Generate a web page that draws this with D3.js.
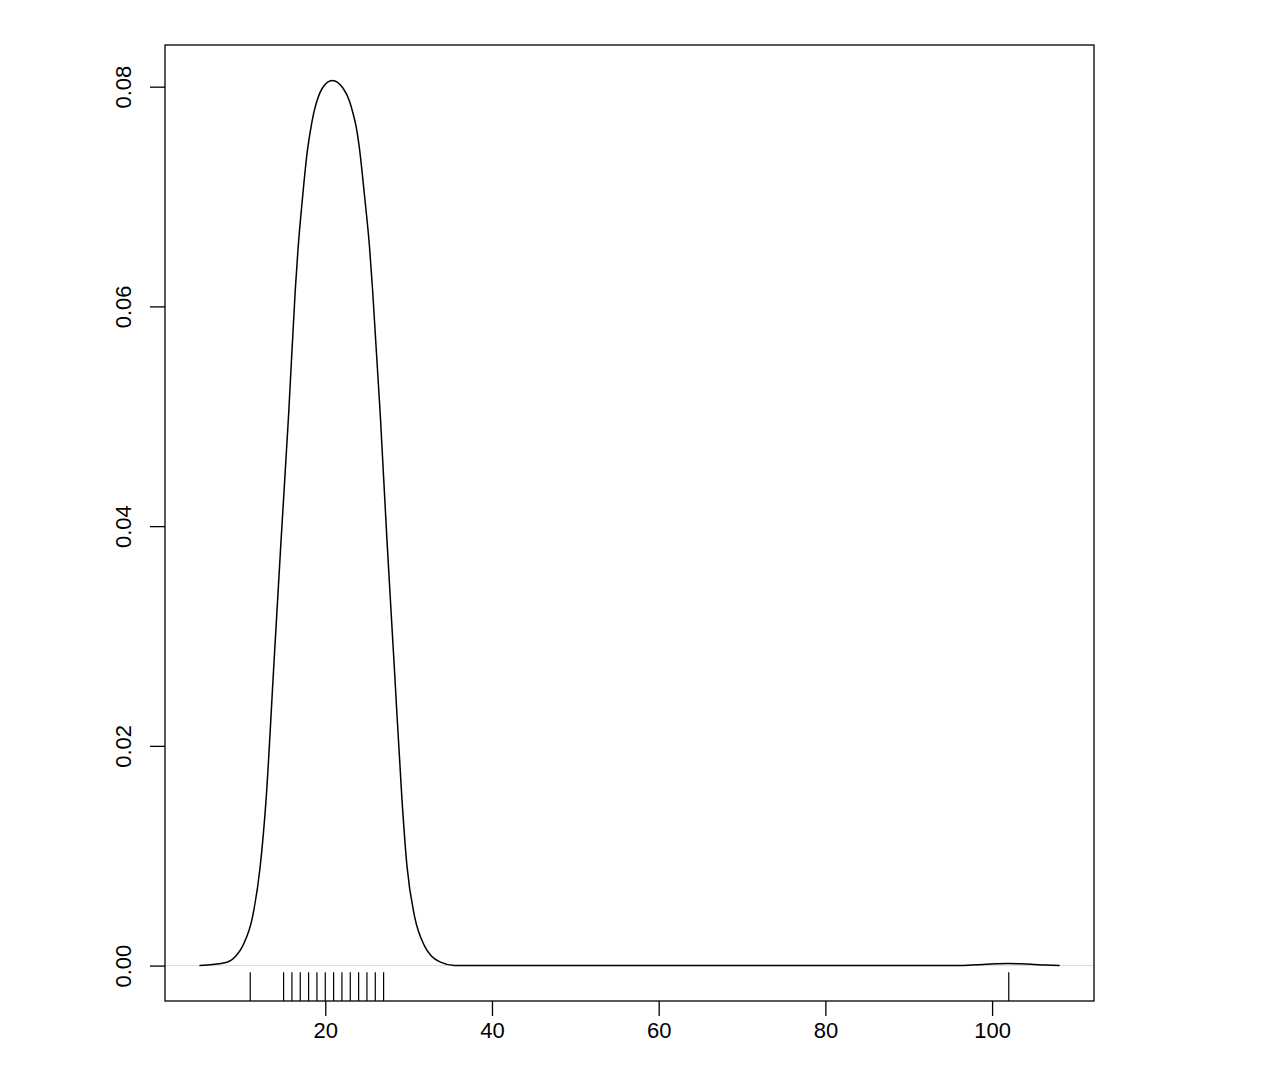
<!DOCTYPE html>
<html>
<head>
<meta charset="utf-8">
<script src="https://cdn.jsdelivr.net/npm/d3@7"></script>
<style>
  body { margin: 0; background: #fff; }
  text { font-family: "Liberation Sans", Arial, sans-serif; fill: #000; }
</style>
</head>
<body>
<div id="chart"></div>
<script>
// Density curve (x, density)
const densX = [4.9, 8.1, 9.3, 10.1, 11.3, 12.2, 12.9, 13.8, 14.7, 15.6, 16.4, 16.72, 17.24, 17.85, 18.24, 18.6, 19.0, 19.72, 20.84,
               22.12, 22.92, 23.32, 23.72, 24.08, 24.72, 25.32, 25.68, 26.6, 27.4, 28.3, 29.2, 29.8, 30.7, 31.9, 32.7, 33.9, 35.5,
               45, 60, 96, 97.5, 99, 100.5, 102, 103.5, 105, 106.5, 108.1];
const densY = [0.00001, 0.00029, 0.00089, 0.0018, 0.00452, 0.00907, 0.01513, 0.02694, 0.03875, 0.05011,
               0.06147, 0.06511, 0.06964, 0.07415, 0.0761, 0.07755, 0.0787, 0.07995, 0.08057,
               0.07988, 0.07866, 0.0776, 0.0763, 0.0745, 0.07, 0.0653, 0.06147, 0.05011, 0.03875, 0.02694,
               0.01513, 0.00907, 0.00452, 0.0018, 0.00089, 0.00029, 0.00001,
               0, 0, 0.00001, 0.00005, 0.00011, 0.00016, 0.00018, 0.00016, 0.00011, 0.00005, 0.00001];

// Rug: observed values
const rugValues = [11, 15, 16, 17, 18, 19, 20, 21, 22, 23, 24, 25, 26, 27, 102];

// Tick values
const xTicks = [20, 40, 60, 80, 100];
const yTicks = [0, 0.02, 0.04, 0.06, 0.08];

const W = 1288, H = 1078;
const MARGIN = { top: 45, right: 194, bottom: 77, left: 165 };
const plotW = W - MARGIN.left - MARGIN.right;
const plotH = H - MARGIN.top - MARGIN.bottom;

const points = densX.map((x, i) => ({ x, y: densY[i] }));

// R-style 4% axis extension
const xr = d3.extent(densX);
const xPad = (xr[1] - xr[0]) * 0.04;
const yMax = d3.max(densY);
const yPad = yMax * 0.04;

const x = d3.scaleLinear().domain([xr[0] - xPad, xr[1] + xPad]).range([0, plotW]);
const y = d3.scaleLinear().domain([0 - yPad, yMax + yPad]).range([plotH, 0]);

const svg = d3.select('#chart').append('svg')
    .attr('width', W)
    .attr('height', H);

const g = svg.append('g')
    .attr('transform', `translate(${MARGIN.left},${MARGIN.top})`);

// zero line
g.append('line')
    .attr('x1', 0).attr('x2', plotW)
    .attr('y1', y(0)).attr('y2', y(0))
    .attr('stroke', '#dcdcdc')
    .attr('stroke-width', 1);

// density line
const line = d3.line()
    .x(d => x(d.x))
    .y(d => y(d.y))
    .curve(d3.curveMonotoneX);

g.append('path')
    .datum(points)
    .attr('fill', 'none')
    .attr('stroke', '#000')
    .attr('stroke-width', 1.5)
    .attr('d', line);

// rug
const rugLen = plotH * 0.03;
g.selectAll('line.rug')
    .data(rugValues)
    .enter()
    .append('line')
    .attr('class', 'rug')
    .attr('x1', d => x(d)).attr('x2', d => x(d))
    .attr('y1', plotH).attr('y2', plotH - rugLen)
    .attr('stroke', '#000')
    .attr('stroke-width', 1.2);

// box
g.append('rect')
    .attr('x', 0).attr('y', 0)
    .attr('width', plotW).attr('height', plotH)
    .attr('fill', 'none')
    .attr('stroke', '#000')
    .attr('stroke-width', 1.3);

// x axis
const xAxis = g.append('g')
    .attr('transform', `translate(0,${plotH})`)
    .call(d3.axisBottom(x).tickValues(xTicks).tickSize(15).tickSizeOuter(0).tickPadding(6).tickFormat(d3.format('d')));
xAxis.select('.domain').remove();
xAxis.selectAll('.tick line').attr('stroke', '#000').attr('stroke-width', 1.3);
xAxis.selectAll('.tick text')
    .style('font-family', '"Liberation Sans", Arial, sans-serif')
    .style('font-size', '22px')
    .attr('fill', '#000');

// y axis
const yAxis = g.append('g')
    .call(d3.axisLeft(y).tickValues(yTicks).tickSize(15).tickSizeOuter(0).tickFormat(d3.format('.2f')));
yAxis.select('.domain').remove();
yAxis.selectAll('.tick line').attr('stroke', '#000').attr('stroke-width', 1.3);
yAxis.selectAll('.tick text')
    .attr('x', null).attr('dy', null)
    .attr('transform', 'translate(-42,0) rotate(-90)')
    .attr('text-anchor', 'middle')
    .attr('dominant-baseline', 'central')
    .style('font-family', '"Liberation Sans", Arial, sans-serif')
    .style('font-size', '22px')
    .attr('fill', '#000');
</script>
</body>
</html>
